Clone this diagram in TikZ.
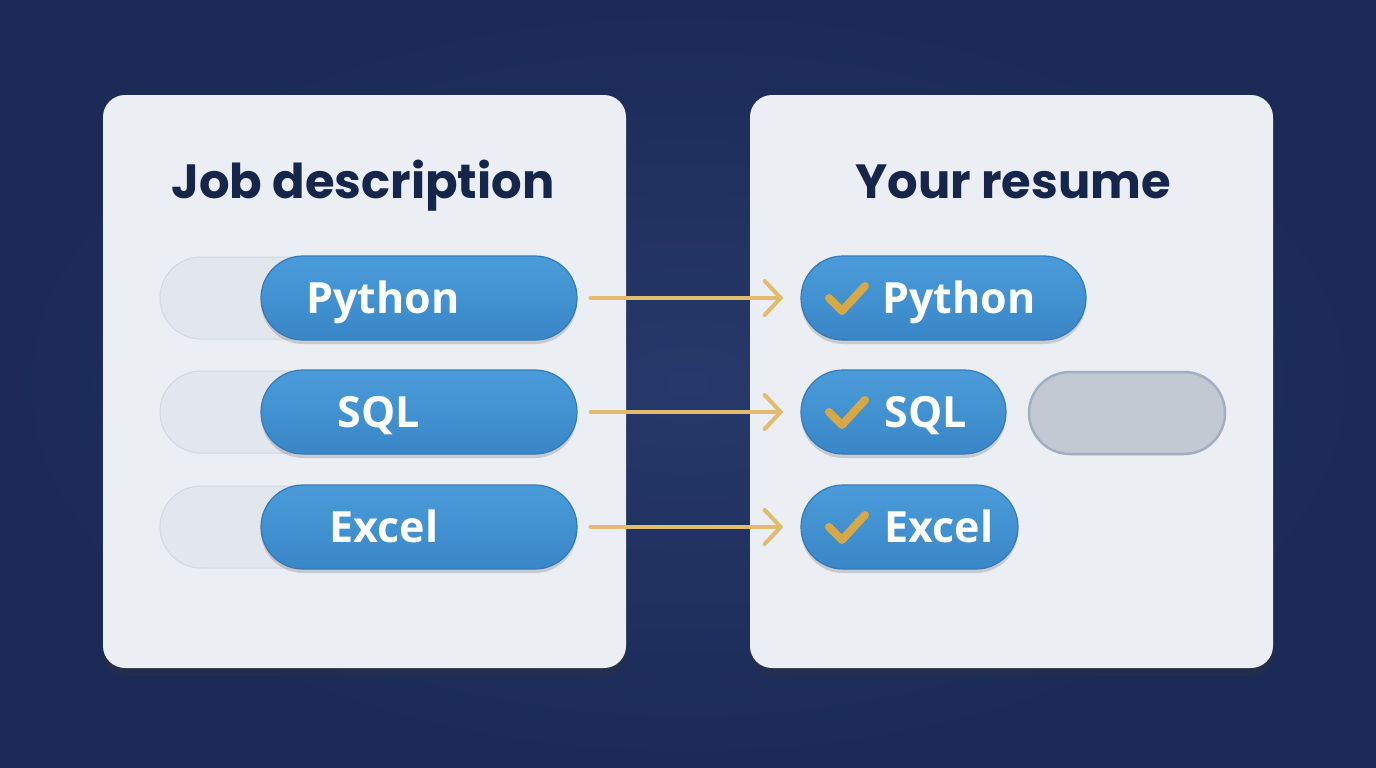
\documentclass[tikz,border=0pt]{standalone}
\usepackage{fontspec}
\setmainfont{Poppins}
\newfontfamily\pillfont{Open Sans}
\usetikzlibrary{arrows.meta,shadows}
\definecolor{bgin}{HTML}{26396A}
\definecolor{bgout}{HTML}{1B2A56}
\definecolor{panel}{HTML}{EBEEF3}
\definecolor{titlec}{HTML}{16254A}
\definecolor{pillblue}{HTML}{3D8DD1}
\definecolor{pilltop}{HTML}{4A9CD9}
\definecolor{pilledge}{HTML}{3579B8}
\definecolor{ghost}{HTML}{E2E6ED}
\definecolor{ghostedge}{HTML}{D2D7E0}
\definecolor{gray}{HTML}{C3C9D3}
\definecolor{grayedge}{HTML}{A3AEC2}
\definecolor{gold}{HTML}{E2BC6E}
\definecolor{checkc}{HTML}{D6A848}
\tikzset{
  panelbox/.style={fill=panel, rounded corners=22pt, draw=none,
    drop shadow={shadow xshift=0pt, shadow yshift=-8pt, opacity=0.3, fill=black!80}},
  titletext/.style={font=\fontsize{48}{56}\selectfont\bfseries, text=titlec, anchor=base},
  bluepill/.style={draw=pilledge, line width=1.2pt, top color=pilltop, bottom color=pillblue!95!black,
    rounded corners=42pt, minimum height=84pt, inner sep=0pt,
    drop shadow={shadow xshift=0pt, shadow yshift=-4pt, opacity=0.15, fill=black}},
  ghostpill/.style={fill=ghost, draw=ghostedge, line width=1pt, rounded corners=41pt, minimum height=82pt, inner sep=0pt},
  graypill/.style={fill=gray, draw=grayedge, line width=2.5pt, rounded corners=41pt, minimum height=82pt, inner sep=0pt},
  pilltext/.style={font=\pillfont\fontsize{43}{48}\selectfont\bfseries, text=white, anchor=base, inner sep=0pt},
  goldarrow/.style={draw=gold, line width=4pt, line cap=round,
    -{Straight Barb[length=16pt,width=34pt,line cap=round]}},
  checkmark/.style={draw=checkc, line width=8pt, line cap=round, line join=round}
}
\begin{document}
\begin{tikzpicture}[x=1pt,y=-1pt]
\useasboundingbox (0,0) rectangle (1376,768);
\shade[inner color=bgin, outer color=bgout] (0,0) rectangle (1376,768);

% panels
\path[panelbox] (103,95) rectangle (626,668);
\path[panelbox] (750,95) rectangle (1273,668);
\node[titletext] (t1) at (363,198) {Job description};
\node[titletext] (t2) at (1013,198) {Your resume};

% left ghost pills
\node[ghostpill, minimum width=250pt] (g1) at (285,298) {};
\node[ghostpill, minimum width=250pt] (g2) at (285,412) {};
\node[ghostpill, minimum width=250pt] (g3) at (285,527) {};

% left blue pills
\node[bluepill, minimum width=316pt] (l1) at (419,298) {};
\node[bluepill, minimum width=316pt] (l2) at (419,412) {};
\node[bluepill, minimum width=316pt] (l3) at (419,527) {};
\node[pilltext] (lt1) at (383,313) {Python};
\node[pilltext] (lt2) at (379,427) {SQL};
\node[pilltext] (lt3) at (384,542) {Excel};

% right pills
\node[bluepill, minimum width=285pt] (r1) at (943.5,298) {};
\node[bluepill, minimum width=205pt] (r2) at (903.5,412) {};
\node[bluepill, minimum width=217pt] (r3) at (909.5,527) {};
\node[graypill, minimum width=196pt] (gr) at (1127,413) {};
\node[pilltext] (rt1) at (959,313) {Python};
\node[pilltext] (rt2) at (926,427) {SQL};
\node[pilltext] (rt3) at (939,542) {Excel};

% check marks
\coordinate (c1a) at (829,298); \coordinate (c1b) at (842,311); \coordinate (c1c) at (865,286);
\coordinate (c2a) at (829,412); \coordinate (c2b) at (842,425); \coordinate (c2c) at (865,400);
\coordinate (c3a) at (829,527); \coordinate (c3b) at (842,540); \coordinate (c3c) at (865,515);
\draw[checkmark] (c1a) -- (c1b) -- (c1c);
\draw[checkmark] (c2a) -- (c2b) -- (c2c);
\draw[checkmark] (c3a) -- (c3b) -- (c3c);

% arrows
\draw[goldarrow, shorten <=13pt, shorten >=17pt] (l1.east) -- (r1.west);
\draw[goldarrow, shorten <=13pt, shorten >=17pt] (l2.east) -- (r2.west);
\draw[goldarrow, shorten <=13pt, shorten >=17pt] (l3.east) -- (r3.west);
\end{tikzpicture}
\end{document}
